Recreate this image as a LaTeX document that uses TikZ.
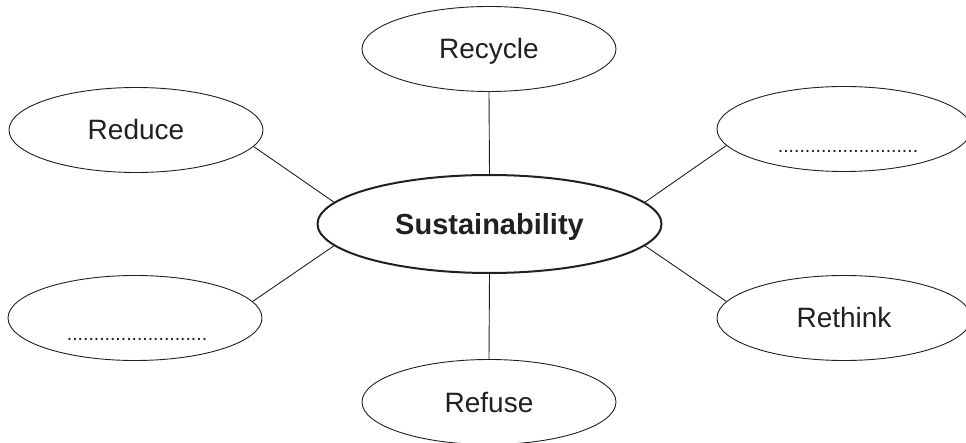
\documentclass[tikz,border=0pt]{standalone}
\usepackage{fontspec}
\setmainfont{Liberation Sans}
\usetikzlibrary{shapes.geometric}
\definecolor{ink}{HTML}{231F20}
\begin{document}
\begin{tikzpicture}[x=1pt,y=-1pt,
  leaf/.style={ellipse,draw=ink,line width=0.9pt,minimum width=254pt,minimum height=85pt,inner sep=0pt,
    font=\fontsize{28}{32}\selectfont,text=ink,text height=20pt,text depth=0pt},
  hub/.style={ellipse,draw=ink,line width=2pt,minimum width=344pt,minimum height=98pt,inner sep=0pt,
    font=\fontsize{29}{34}\selectfont\bfseries,text=ink,text height=21pt,text depth=0pt},
  link/.style={draw=ink,line width=0.9pt},
  blank/.style={font=\fontsize{19.4}{22}\selectfont,text=ink,inner sep=0pt,anchor=base}]
\useasboundingbox (0,0) rectangle (966,443);
\clip (0,0) rectangle (966,443);
\node[hub] (c) at (489.5,224) {Sustainability};
\node[leaf] (rc) at (489,49) {Recycle};
\node[leaf] (rd) at (136,130) {Reduce};
\node[leaf] (tr) at (844,129) {};
\node[leaf] (bl) at (135,318) {};
\node[leaf] (rt) at (844,318) {Rethink};
\node[leaf] (rf) at (489,402) {Refuse};
\node[blank] (trd) at (848,153) {..........................};
\node[blank] (bld) at (137,341) {..........................};
\draw[link] (rc.south) -- (c.north);
\draw[link] (c.south) -- (rf.north);
\draw[link] (rd.-8) -- (c.172);
\draw[link] (tr.188) -- (c.8);
\draw[link] (bl.8) -- (c.188);
\draw[link] (rt.172) -- (c.-8);
\end{tikzpicture}
\end{document}
